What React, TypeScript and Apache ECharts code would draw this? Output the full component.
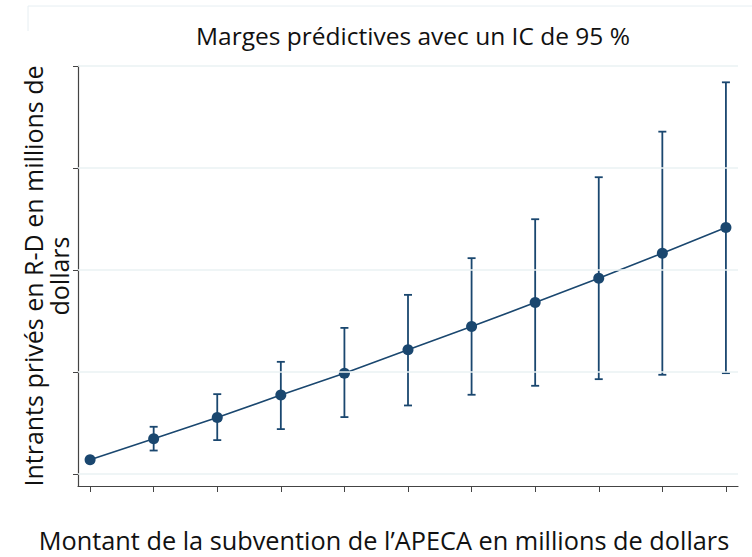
import React, { useEffect, useRef } from "react";
import * as echarts from "echarts";

const xValues = [0, 1, 2, 3, 4, 5, 6, 7, 8, 9, 10];
const margins = [1.37, 3.43, 5.52, 7.72, 9.87, 12.16, 14.44, 16.79, 19.19, 21.64, 24.15];
const ciLow = [1.2, 2.28, 3.3, 4.38, 5.56, 6.7, 7.75, 8.63, 9.28, 9.71, 9.87];
const ciHigh = [1.55, 4.61, 7.81, 10.98, 14.31, 17.55, 21.15, 24.97, 29.09, 33.56, 38.4];
const yTicks = [0, 10, 20, 30, 40];

const TITLE = "Marges prédictives avec un IC de 95 %";
const X_NAME = "Montant de la subvention de l’APECA en millions de dollars";
const Y_NAME = "Intrants privés en R-D en millions de\ndollars";

const NAVY = "#1a476f";
const FONT = "'Open Sans', 'Noto Sans', sans-serif";

export default function App() {
  const ref = useRef<HTMLDivElement>(null);
  useEffect(() => {
    if (!ref.current) return;
    const chart = echarts.init(ref.current, undefined, { renderer: "svg" });
    const lineData = xValues.map((x, i) => [x, margins[i]]);
    const ciData = xValues.map((x, i) => [x, ciLow[i], ciHigh[i]]);
    chart.setOption({
      animation: false,
      backgroundColor: "#ffffff",
      title: {
        text: TITLE,
        left: 408,
        top: 18,
        textAlign: "center",
        textStyle: { fontFamily: FONT, fontSize: 24.5, fontWeight: "normal", color: "#111" },
      },
      graphic: [
        {
          type: "polyline",
          shape: { points: [[28, 31], [28, 6], [752, 6]] },
          style: { stroke: "#e6eef2", lineWidth: 1, fill: "none" },
          silent: true,
        },
      ],
      grid: { left: 78, right: 14, top: 66, bottom: 71, outerBoundsMode: "none", containLabel: false },
      xAxis: {
        type: "value",
        min: -0.19,
        max: 10.19,
        name: X_NAME,
        nameLocation: "middle",
        nameGap: 41,
        nameTextStyle: { fontFamily: FONT, fontSize: 25.3, color: "#111", padding: [0, 48, 0, 0] },
        axisLine: { show: true, onZero: false, lineStyle: { color: "#444", width: 1.2 } },
        axisTick: { show: true, length: 6, customValues: xValues, lineStyle: { color: "#444" } },
        axisLabel: { show: false },
        splitLine: { show: false },
      },
      yAxis: {
        type: "value",
        min: -1.2,
        max: 40,
        name: Y_NAME,
        nameLocation: "middle",
        nameRotate: 90,
        nameGap: 6,
        nameTextStyle: { fontFamily: FONT, fontSize: 25, color: "#111", lineHeight: 26 },
        axisLine: { show: true, onZero: false, lineStyle: { color: "#444", width: 1.2 } },
        axisTick: { show: true, length: 5, customValues: yTicks, lineStyle: { color: "#444" } },
        axisLabel: { show: false },
        splitLine: { show: false },
      },
      series: [
        {
          type: "line",
          data: [],
          silent: true,
          z: 0,
          markLine: {
            silent: true,
            symbol: ["none", "none"],
            label: { show: false },
            lineStyle: { color: "#eaf2f3", width: 1.5, type: "solid" },
            data: yTicks.map((v) => ({ yAxis: v })),
          },
        },
        {
          type: "custom",
          data: ciData,
          z: 3,
          renderItem: (params: any, api: any) => {
            const x = api.value(0);
            const top = api.coord([x, api.value(2)]);
            const bot = api.coord([x, api.value(1)]);
            const hw = 4;
            const style = { stroke: NAVY, lineWidth: 1.8 };
            return {
              type: "group",
              children: [
                { type: "line", shape: { x1: top[0], y1: top[1], x2: bot[0], y2: bot[1] }, style },
                { type: "line", shape: { x1: top[0] - hw, y1: top[1], x2: top[0] + hw, y2: top[1] }, style },
                { type: "line", shape: { x1: bot[0] - hw, y1: bot[1], x2: bot[0] + hw, y2: bot[1] }, style },
              ],
            };
          },
        },
        {
          type: "line",
          data: lineData,
          z: 4,
          symbol: "circle",
          symbolSize: 11,
          itemStyle: { color: NAVY },
          lineStyle: { color: NAVY, width: 1.6 },
        },
      ],
    });
    return () => chart.dispose();
  }, []);
  return (
    <div
      ref={ref}
      style={{ position: "absolute", left: 0, top: 0, width: 752, height: 557 }}
    />
  );
}
